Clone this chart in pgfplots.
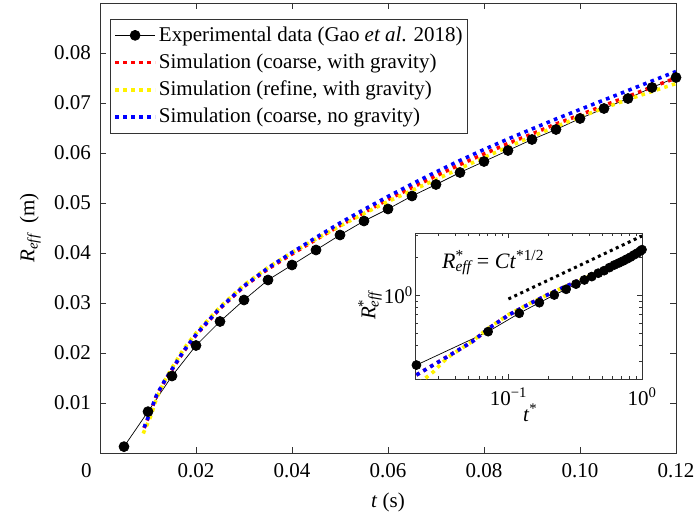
\documentclass[border=0pt]{standalone}
\usepackage{fontspec}
\setmainfont{Liberation Serif}
\usepackage{pgfplots}
\pgfplotsset{compat=1.18}

\newcommand{\Reff}{\textit{R}\textsubscript{\textit{eff}}}
\newcommand{\Rstar}{\textit{R}\rlap{\textsuperscript{*}}\textsubscript{\textit{eff}}}

\pgfplotsset{
  simline/.style={line width=3.6pt, dash pattern=on 3.6pt off 4.4pt},
}

\begin{document}
\fontsize{21}{25}\selectfont
\begin{tikzpicture}
\path[use as bounding box] (0pt,0pt) rectangle (695pt,522pt);

\begin{axis}[
    at={(100pt,69pt)}, anchor=south west,
    width=576pt, height=450pt, scale only axis,
    xmin=0, xmax=0.12, ymin=0, ymax=0.09,
    clip=false,
    xtick={0,0.02,0.04,0.06,0.08,0.10,0.12},
    xticklabels={\makebox[0pt][r]{0\hspace{8.5pt}},0.02,0.04,0.06,0.08,0.10,0.12},
    ytick={0.01,0.02,0.03,0.04,0.05,0.06,0.07,0.08},
    yticklabels={0.01,0.02,0.03,0.04,0.05,0.06,0.07,0.08},
    xticklabel style={yshift=-3pt},
    yticklabel style={xshift=-2pt},
    tick align=inside, major tick length=6pt,
    axis line style={black!80, line width=0.6pt},
    every tick/.style={black!80, line width=0.6pt},
    xlabel={\textit{t} (s)},
    ylabel={\Reff\ \,(m)},
    label style={font=\fontsize{25}{29}\selectfont},
    every axis x label/.style={at={(axis description cs:0.5,-0.109)}, anchor=center},
    every axis y label/.style={at={(axis description cs:-0.121,0.5)}, anchor=center, rotate=90},
    legend style={at={(axis description cs:0.0174,0.964)}, anchor=north west, draw=black!80, line width=0.6pt,
        fill=white, font=\fontsize{21}{25}\selectfont, row sep=5.5pt,
        inner xsep=3pt, inner ysep=5pt},
    legend cell align=left,
    legend image code/.code={\draw[mark repeat=2,mark phase=2,#1] plot coordinates {(0pt,0pt) (20pt,0pt) (40pt,0pt)};},
]
\addplot[black, line width=0.7pt, mark=*, mark size=5pt] coordinates {
(0.005,0.00127)(0.010,0.00827)(0.015,0.0154)(0.020,0.0215)(0.025,0.0263)(0.030,0.0306)
(0.035,0.0346)(0.040,0.0376)(0.045,0.0406)(0.050,0.0436)(0.055,0.0464)(0.060,0.0488)
(0.065,0.0514)(0.070,0.0537)(0.075,0.0561)(0.080,0.0583)(0.085,0.0605)(0.090,0.0627)
(0.095,0.0647)(0.100,0.0669)(0.105,0.0689)(0.110,0.0709)(0.115,0.0731)(0.120,0.0751)};
\addlegendentry{Experimental data (Gao \textit{et al}. 2018)}

\addplot[red, simline] coordinates {
(0.0092,0.0050)(0.0105,0.0082)(0.0118,0.0115)(0.0135,0.0144)(0.0151,0.0168)(0.0175,0.0204)
(0.0201,0.0237)(0.025,0.0289)(0.030,0.0333)(0.035,0.0368)(0.040,0.0398)(0.045,0.0427)
(0.050,0.0455)(0.055,0.0481)(0.060,0.0507)(0.065,0.0531)(0.070,0.0554)(0.075,0.0577)
(0.080,0.0598)(0.085,0.0619)(0.090,0.0638)(0.095,0.0658)(0.100,0.0676)(0.105,0.0695)
(0.110,0.0713)(0.115,0.0732)(0.120,0.0750)};
\addlegendentry{Simulation (coarse, with gravity)}

\addplot[yellow, simline] coordinates {
(0.0090,0.0039)(0.0105,0.0072)(0.0118,0.0110)(0.0135,0.0145)(0.0151,0.0172)(0.0175,0.0209)
(0.0201,0.0241)(0.025,0.0292)(0.030,0.0336)(0.035,0.0371)(0.040,0.0401)(0.045,0.0428)
(0.050,0.0454)(0.055,0.0479)(0.060,0.0503)(0.065,0.0525)(0.070,0.0547)(0.075,0.0569)
(0.080,0.0591)(0.085,0.0612)(0.090,0.0633)(0.095,0.0653)(0.100,0.0672)(0.105,0.0690)
(0.110,0.0707)(0.115,0.0723)(0.120,0.0739)};
\addlegendentry{Simulation (refine, with gravity)}

\addplot[blue, simline] coordinates {
(0.0092,0.0051)(0.0105,0.0083)(0.0118,0.0116)(0.0135,0.0145)(0.0151,0.0169)(0.0175,0.0205)
(0.0201,0.0238)(0.025,0.0290)(0.030,0.0334)(0.035,0.0370)(0.040,0.0401)(0.045,0.0431)
(0.050,0.0460)(0.055,0.0487)(0.060,0.0513)(0.065,0.0538)(0.070,0.0562)(0.075,0.0585)
(0.080,0.0607)(0.085,0.0628)(0.090,0.0648)(0.095,0.0668)(0.100,0.0687)(0.105,0.0706)
(0.110,0.0725)(0.115,0.0744)(0.120,0.0763)};
\addlegendentry{Simulation (coarse, no gravity)}
\end{axis}

\begin{axis}[
    at={(415pt,143pt)}, anchor=south west,
    width=227pt, height=146pt, scale only axis,
    xmode=log, ymode=log,
    xmin=0.02, xmax=1, ymin=0.2155, ymax=3.105,
    axis background/.style={fill=white},
    xtick={0.1,1}, xticklabels={10\textsuperscript{−1},10\textsuperscript{0}},
    ytick={1}, yticklabels={10\textsuperscript{0}},
    minor xtick={0.03,0.04,0.05,0.06,0.07,0.08,0.09,0.2,0.3,0.4,0.5,0.6,0.7,0.8,0.9},
    minor ytick={0.3,0.4,0.5,0.6,0.7,0.8,0.9,2,3},
    tick align=inside, major tick length=5pt, minor tick length=3pt,
    axis line style={black!80, line width=0.6pt},
    every tick/.style={black!80, line width=0.5pt},
    xticklabel style={yshift=-2pt},
    yticklabel style={xshift=5pt},
    xlabel={\textit{t}\textsuperscript{*}},
    ylabel={\Rstar},
    every axis x label/.style={at={(axis description cs:0.507,-0.233)}, anchor=center},
    every axis y label/.style={at={(axis description cs:-0.198,0.507)}, anchor=center, rotate=90},
]
\addplot[black, line width=0.7pt, mark=*, mark size=4.5pt] coordinates {
(0.0205,0.278)(0.0705,0.512)(0.1205,0.716)(0.1705,0.869)(0.2205,1.0)(0.2705,1.11)
(0.3205,1.22)(0.3705,1.316)(0.4205,1.40)(0.4705,1.49)(0.5205,1.56)(0.5705,1.65)
(0.6205,1.73)(0.6705,1.795)(0.7205,1.86)(0.7705,1.93)(0.8205,2.0)(0.8705,2.08)
(0.9205,2.15)(0.9705,2.23)(1.0,2.29)};
\addplot[black, line width=3pt, dash pattern=on 3pt off 3.6pt] coordinates {(0.1,0.93)(1,2.94)};
\addplot[red, simline] coordinates {
(0.0205,0.232)(0.0349,0.324)(0.0536,0.426)(0.0713,0.544)(0.1005,0.694)(0.146,0.859)
(0.218,1.06)(0.344,1.315)(0.611,1.73)(1.0,2.30)};
\addplot[yellow, simline] coordinates {
(0.0215,0.200)(0.0275,0.246)(0.0349,0.318)(0.0536,0.428)(0.0713,0.548)(0.1005,0.700)
(0.146,0.862)(0.218,1.06)(0.344,1.31)(0.611,1.72)(1.0,2.29)};
\addplot[blue, simline] coordinates {
(0.0205,0.232)(0.0349,0.324)(0.0536,0.426)(0.0713,0.544)(0.1005,0.694)(0.146,0.859)
(0.218,1.06)(0.344,1.315)(0.611,1.73)(1.0,2.30)};
\node[anchor=base west, font=\fontsize{22}{26}\selectfont] at (rel axis cs:0.088,0.76)
  {\Rstar\,= \textit{Ct}\textsuperscript{*1/2}};
\end{axis}
\end{tikzpicture}
\end{document}
